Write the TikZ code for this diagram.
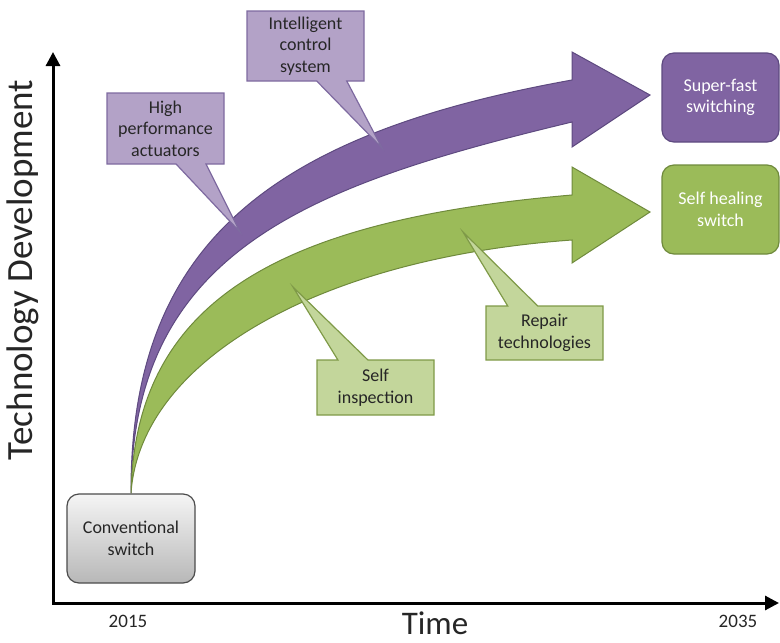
\documentclass[tikz,border=0pt]{standalone}
\usepackage{fontspec}
\setmainfont{Carlito}
\usetikzlibrary{shapes.callouts,arrows.meta}
\definecolor{purpA}{HTML}{8064A2}
\definecolor{purpD}{HTML}{5E4A80}
\definecolor{purpL}{HTML}{B3A2C7}
\definecolor{purpLD}{HTML}{7E6AA0}
\definecolor{greenA}{HTML}{9BBB59}
\definecolor{greenD}{HTML}{6F8A3C}
\definecolor{greenL}{HTML}{C3D69B}
\definecolor{greenLD}{HTML}{7F9A48}
\definecolor{txt}{HTML}{262626}
\begin{document}
\begin{tikzpicture}[x=1pt,y=-1pt,
  lbl/.style={font=\fontsize{18}{21.5}\selectfont, align=center, text=txt},
  callbase/.style={rectangle callout, line width=1.2pt, inner sep=0pt, callout pointer width=30pt, lbl},
  callp/.style={callbase, draw=purpLD, fill=purpL},
  callg/.style={callbase, draw=greenLD, fill=greenL},
  endbox/.style={rounded corners=12pt, line width=1.2pt, minimum width=117pt, minimum height=89pt, inner sep=0pt,
     font=\fontsize{18}{21.5}\selectfont, align=center, text=white},
  bigarrowP/.style={fill=purpA, draw=purpD, line width=1pt, line join=miter},
  bigarrowG/.style={fill=greenA, draw=greenD, line width=1pt, line join=miter},
  axis/.style={line width=3pt, {Triangle[length=14pt,width=14pt]}-{Triangle[length=14pt,width=14pt]}},
  year/.style={font=\fontsize{19}{22}\selectfont, text=txt, anchor=base, inner sep=0pt},
  axlabel/.style={font=\fontsize{37}{40}\selectfont, text=txt, inner sep=0pt}
]
\useasboundingbox (0,0) rectangle (780,643);

% axes
\coordinate (O) at (53,603);
\coordinate (Ytip) at (53,52);
\coordinate (Xtip) at (779,603);
\draw[axis] (Ytip) -- (O) -- (Xtip);
\node[axlabel, rotate=90] (ylab) at (23,270) {Technology Development};
\node[axlabel, anchor=base, text depth=0pt, font=\fontsize{33}{36}\selectfont] (xlab) at (435,634) {Time};
\node[year] (y2015) at (128,627) {2015};
\node[year] (y2035) at (738,627) {2035};

% start box
\node[rounded corners=12pt, draw=black!70, line width=1.2pt, top color=black!4, bottom color=black!28,
      minimum width=128pt, minimum height=89pt, inner sep=0pt, lbl] (conv) at (131,538.5) {Conventional\\switch};
\coordinate (tail) at (conv.north);

% purple arrow
\draw[bigarrowP] (tail) .. controls (130,243) and (272,134) .. (572,80) -- (572,52) -- (650,95)
   -- (572,147) -- (572,122) .. controls (310,185) and (132,250) .. (tail) -- cycle;
% green arrow
\draw[bigarrowG] (tail) .. controls (135,300) and (280,220) .. (572,195) -- (572,167) -- (650,212)
   -- (572,263) -- (572,240) .. controls (320,258) and (140,360) .. (tail) -- cycle;

% end boxes
\node[endbox, fill=purpA, draw=purpD] (sf) at (720.5,97.5) {Super-fast\\switching};
\node[endbox, fill=greenA, draw=greenD] (sh) at (720.5,209.5) {Self healing\\switch};

% callouts
\coordinate (p1) at (240,232);
\coordinate (p2) at (382,148);
\coordinate (p3) at (293,287);
\coordinate (p4) at (463,232);
\node[callp, callout absolute pointer={(p1)}, minimum width=117pt, minimum height=71pt] (hpa) at (165.5,128.5)
   {High\\performance\\actuators};
\node[callp, callout absolute pointer={(p2)}, minimum width=117pt, minimum height=70pt] (ics) at (305.5,46)
   {Intelligent\\control\\system};
\node[callg, callout absolute pointer={(p3)}, minimum width=117pt, minimum height=55pt] (si) at (375.5,387.5)
   {Self\\inspection};
\node[callg, callout absolute pointer={(p4)}, minimum width=117pt, minimum height=54pt] (rt) at (544.5,333)
   {Repair\\technologies};
\end{tikzpicture}
\end{document}
